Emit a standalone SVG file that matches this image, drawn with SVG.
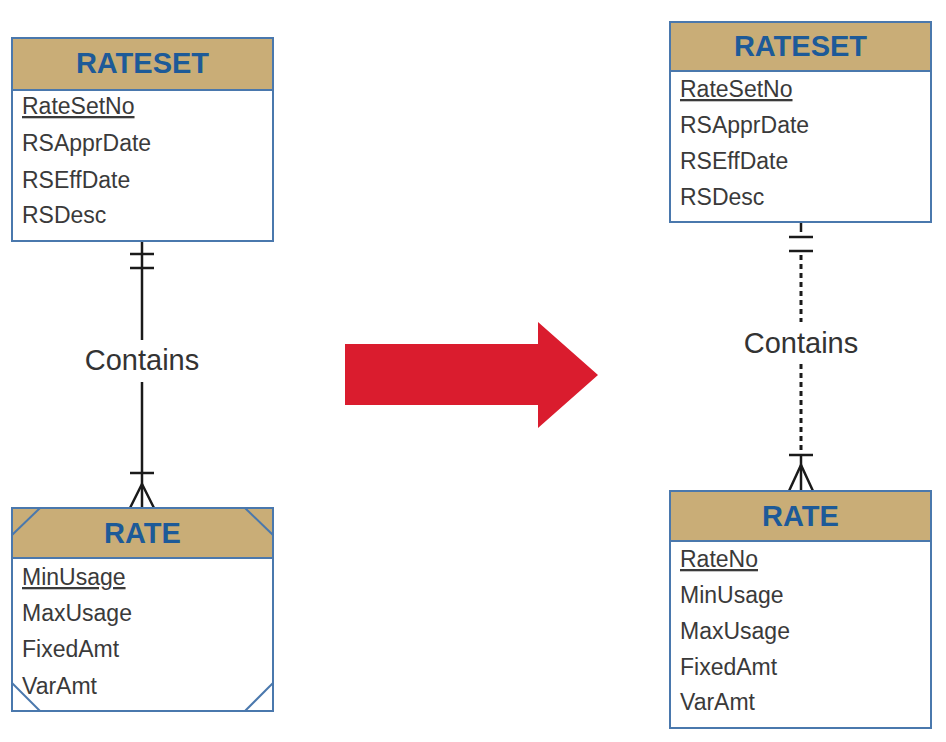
<svg xmlns="http://www.w3.org/2000/svg" width="946" height="742" viewBox="0 0 946 742">
<style>
.box{fill:#fff;stroke:#4a78ad;stroke-width:2}
.hdr{fill:#c9ad77;stroke:#4a78ad;stroke-width:2}
.title{font-family:"Liberation Sans",Arial,sans-serif;font-weight:bold;font-size:29px;fill:#1d5a98;text-anchor:middle}
.attr{font-family:"Liberation Sans",Arial,sans-serif;font-size:23px;fill:#3a3a3a}
.key{text-decoration:underline}
.corner{stroke:#4a78ad;stroke-width:2;fill:none}
.rel{stroke:#1a1a1a;stroke-width:2.5;fill:none}
.dot{stroke:#1a1a1a;stroke-width:3;fill:none;stroke-dasharray:5 4}
.lbl{font-family:"Liberation Sans",Arial,sans-serif;font-size:29px;fill:#333;text-anchor:middle}
</style>
<rect width="946" height="742" fill="#fff"/>
<g id="connectors">
<g id="rel-left">
<line class="rel" x1="142" y1="242" x2="142" y2="340"/>
<line class="rel" x1="142" y1="382" x2="142" y2="508"/>
<line class="rel" x1="130" y1="254" x2="154" y2="254"/>
<line class="rel" x1="130" y1="268" x2="154" y2="268"/>
<line class="rel" x1="130" y1="473" x2="154" y2="473"/>
<polyline class="rel" points="130,508 142,484 154,508"/>
<text class="lbl" x="142" y="370">Contains</text>
</g>
<g id="rel-right">
<line class="rel" x1="801" y1="222" x2="801" y2="232"/>
<line class="dot" x1="801" y1="255" x2="801" y2="322"/>
<line class="dot" x1="801" y1="364" x2="801" y2="452"/>
<line class="rel" x1="801" y1="455" x2="801" y2="491"/>
<line class="rel" x1="789" y1="237" x2="813" y2="237"/>
<line class="rel" x1="789" y1="251" x2="813" y2="251"/>
<line class="rel" x1="789" y1="455" x2="813" y2="455"/>
<polyline class="rel" points="789,491 801,465 813,491"/>
<text class="lbl" x="801" y="353">Contains</text>
</g>
</g>
<g id="rateset-left">
<rect class="box" x="12" y="38" width="261" height="203"/>
<rect class="hdr" x="12" y="38" width="261" height="52"/>
<text class="title" x="142.5" y="73">RATESET</text>
<text class="attr key" x="22" y="114">RateSetNo</text>
<text class="attr" x="22" y="151">RSApprDate</text>
<text class="attr" x="22" y="188">RSEffDate</text>
<text class="attr" x="22" y="223">RSDesc</text>
</g>
<g id="rate-left">
<rect class="box" x="12" y="508" width="261" height="203"/>
<rect class="hdr" x="12" y="508" width="261" height="50"/>
<line class="corner" x1="12" y1="535" x2="40" y2="508"/>
<line class="corner" x1="245" y1="508" x2="273" y2="535"/>
<line class="corner" x1="12" y1="683" x2="40" y2="711"/>
<line class="corner" x1="245" y1="711" x2="273" y2="683"/>
<text class="title" x="142.5" y="543">RATE</text>
<text class="attr key" x="22" y="585">MinUsage</text>
<text class="attr" x="22" y="621">MaxUsage</text>
<text class="attr" x="22" y="657">FixedAmt</text>
<text class="attr" x="22" y="694">VarAmt</text>
</g>
<g id="arrow">
<polygon points="345,344 538,344 538,322 598,375 538,428 538,405 345,405" fill="#da1c2e"/>
</g>
<g id="rateset-right">
<rect class="box" x="670" y="22" width="261" height="200"/>
<rect class="hdr" x="670" y="22" width="261" height="49"/>
<text class="title" x="800.5" y="56">RATESET</text>
<text class="attr key" x="680" y="97">RateSetNo</text>
<text class="attr" x="680" y="133">RSApprDate</text>
<text class="attr" x="680" y="169">RSEffDate</text>
<text class="attr" x="680" y="205">RSDesc</text>
</g>
<g id="rate-right">
<rect class="box" x="670" y="491" width="261" height="237"/>
<rect class="hdr" x="670" y="491" width="261" height="50"/>
<text class="title" x="800.5" y="526">RATE</text>
<text class="attr key" x="680" y="567">RateNo</text>
<text class="attr" x="680" y="603">MinUsage</text>
<text class="attr" x="680" y="639">MaxUsage</text>
<text class="attr" x="680" y="675">FixedAmt</text>
<text class="attr" x="680" y="710">VarAmt</text>
</g>
</svg>
